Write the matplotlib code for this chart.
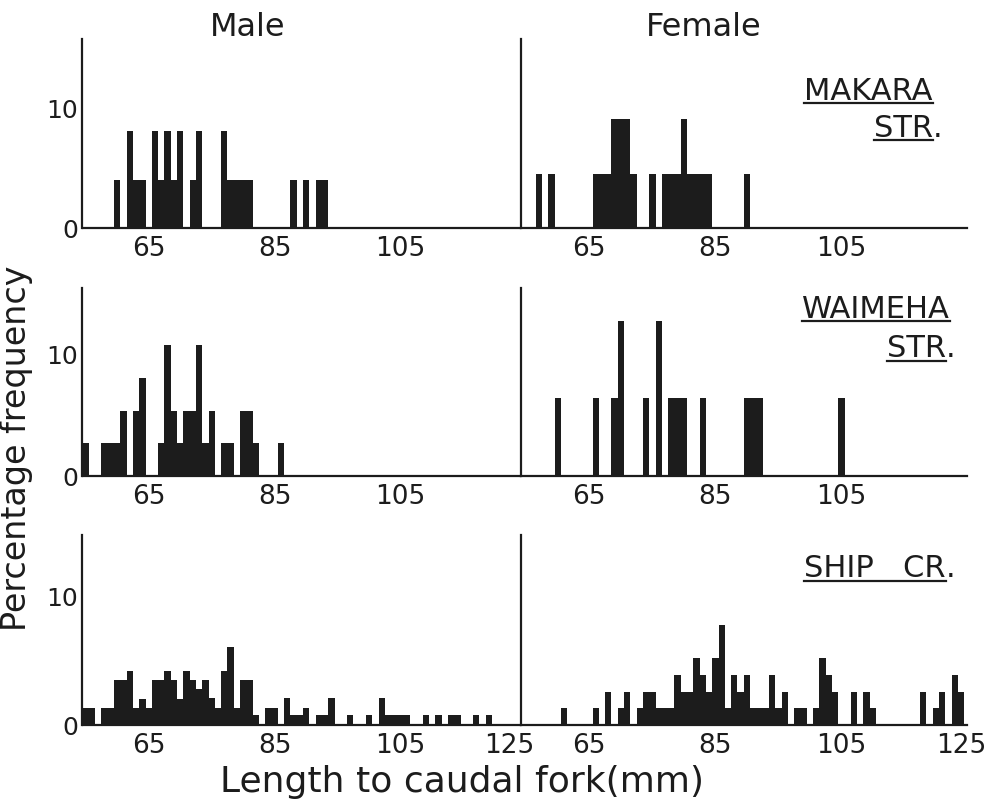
import matplotlib
matplotlib.use("Agg")
import matplotlib.pyplot as plt
from matplotlib.lines import Line2D

plt.rcParams['font.family'] = ['DejaVu Sans']

# percentage frequency in 1 mm length classes (left edge of class, mm)
makara_male_len = [60, 62, 63, 64, 66, 67, 68, 69, 70, 72, 73, 77, 78, 79, 80, 81, 88, 90, 92, 93]
makara_male_pct = [4.0, 8.1, 4.0, 4.0, 8.1, 4.0, 8.1, 4.0, 8.1, 4.0, 8.1, 8.1, 4.0, 4.0, 4.0, 4.0,
                   4.0, 4.0, 4.0, 4.0]

makara_female_len = [57, 59, 66, 67, 68, 69, 70, 71, 72, 75, 77, 78, 79, 80, 81, 82, 83, 84, 90]
makara_female_pct = [4.5, 4.5, 4.5, 4.5, 4.5, 9.1, 9.1, 9.1, 4.5, 4.5, 4.5, 4.5, 4.5, 9.1, 4.5,
                     4.5, 4.5, 4.5, 4.5]

waimeha_male_len = [55, 58, 59, 60, 61, 63, 64, 67, 68, 69, 70, 71, 72, 73, 74, 75, 77, 78, 80,
                    81, 82, 86]
waimeha_male_pct = [2.7, 2.7, 2.7, 2.7, 5.4, 5.4, 8.1, 2.7, 10.8, 5.4, 2.7, 5.4, 5.4, 10.8, 2.7,
                    5.4, 2.7, 2.7, 5.4, 5.4, 2.7, 2.7]

waimeha_female_len = [60, 66, 69, 70, 74, 76, 78, 79, 80, 83, 90, 91, 92, 105]
waimeha_female_pct = [6.4, 6.4, 6.4, 12.8, 6.4, 12.8, 6.4, 6.4, 6.4, 6.4, 6.4, 6.4, 6.4, 6.4]

ship_male_len = [55, 56, 58, 59, 60, 61, 62, 63, 64, 65, 66, 67, 68, 69, 70, 71, 72, 73, 74, 75,
                 76, 77, 78, 79, 80, 81, 82, 84, 85, 87, 88, 89, 90, 92, 93, 94, 97, 100, 102,
                 103, 104, 105, 106, 109, 111, 113, 114, 117, 119]
ship_male_pct = [1.3, 1.3, 1.3, 1.3, 3.5, 3.5, 4.2, 1.3, 2.0, 1.3, 3.5, 3.5, 4.2, 3.5, 2.0, 4.2,
                 3.5, 2.8, 3.5, 2.1, 1.3, 4.2, 6.1, 1.3, 3.5, 3.5, 0.8, 1.3, 1.3, 2.1, 0.8, 0.8,
                 1.3, 0.8, 0.8, 2.1, 0.8, 0.8, 2.1, 0.8, 0.8, 0.8, 0.8, 0.8, 0.8, 0.8, 0.8, 0.8,
                 0.8]

ship_female_len = [61, 66, 68, 70, 71, 73, 74, 75, 76, 77, 78, 79, 80, 81, 82, 83, 84, 85, 86,
                   87, 88, 89, 90, 91, 92, 93, 94, 95, 96, 98, 99, 101, 102, 103, 104, 107, 109,
                   110, 118, 120, 121, 123, 124]
ship_female_pct = [1.3, 1.3, 2.6, 1.3, 2.6, 1.3, 2.6, 2.6, 1.3, 1.3, 1.3, 3.9, 2.6, 2.6, 5.2,
                   3.9, 2.6, 5.2, 7.8, 1.3, 3.9, 2.6, 3.9, 1.3, 1.3, 1.3, 3.9, 1.3, 2.6, 1.3,
                   1.3, 1.3, 5.2, 3.9, 2.6, 2.6, 2.6, 1.3, 2.6, 1.3, 2.6, 3.9, 2.6]

ink = '#1c1c1c'
W, H = 1004, 805
fig = plt.figure(figsize=(W / 100, H / 100), dpi=100, facecolor='white')


def px_axes(x0, y0, x1, y1):
    return fig.add_axes([x0 / W, 1 - y1 / H, (x1 - x0) / W, (y1 - y0) / H])


def panel(ax, lengths, pct, xlim, ymax, ticks, ticklabels, ylabels):
    ax.bar(lengths, pct, width=1.0, align='edge', color=ink, linewidth=0)
    ax.set_xlim(*xlim)
    ax.set_ylim(0, ymax)
    for side in ('top', 'right'):
        ax.spines[side].set_visible(False)
    for side in ('left', 'bottom'):
        ax.spines[side].set_linewidth(1.6)
        ax.spines[side].set_color(ink)
    ax.set_xticks(ticks)
    ax.set_xticklabels(ticklabels)
    ax.tick_params(axis='x', length=0, pad=6, labelsize=19, labelcolor=ink)
    if ylabels:
        ax.set_yticks([0, 10])
        ax.set_yticklabels(['0', '10'])
        ax.tick_params(axis='y', length=0, pad=3, labelsize=18, labelcolor=ink)
    else:
        ax.set_yticks([])
    ax.set_facecolor('none')


male_xlim = (55.0, 124.44)
female_xlim = (54.65, 125.44)
ticks_top = [65.5, 85.5, 105.5]
labels_top = ['65', '85', '105']

rows = [
    (39, 228, 15.75, makara_male_len, makara_male_pct, makara_female_len, makara_female_pct),
    (288, 476, 15.5, waimeha_male_len, waimeha_male_pct, waimeha_female_len, waimeha_female_pct),
    (535, 725, 14.8, ship_male_len, ship_male_pct, ship_female_len, ship_female_pct),
]

for i, (top, bottom, ymax, mlen, mpct, flen, fpct) in enumerate(rows):
    last = i == len(rows) - 1
    ax_m = px_axes(82.5, top, 520, bottom)
    ax_f = px_axes(521, top, 967, bottom)
    if last:
        panel(ax_m, mlen, mpct, male_xlim, ymax, ticks_top + [122.8], labels_top + ['125'], True)
        panel(ax_f, flen, fpct, female_xlim, ymax, ticks_top + [124.5], labels_top + ['125'], False)
    else:
        panel(ax_m, mlen, mpct, male_xlim, ymax, ticks_top, labels_top, True)
        panel(ax_f, flen, fpct, female_xlim, ymax, ticks_top, labels_top, False)

# column headings and axis titles
fig.text(248 / W, 1 - 27 / H, 'Male', ha='center', va='center', fontsize=23, color=ink)
fig.text(704 / W, 1 - 27 / H, 'Female', ha='center', va='center', fontsize=23, color=ink)
fig.text(17 / W, 1 - 448 / H, 'Percentage frequency', rotation=90, ha='center', va='center',
         fontsize=24, color=ink)
fig.text(462 / W, 1 - 782 / H, 'Length to caudal fork(mm)', ha='center', va='center',
         fontsize=26, color=ink)

# locality names, underlined
site_labels = [
    ('MAKARA', 933, 100),
    ('STR', 933, 137),
    ('WAIMEHA', 950, 318),
    ('STR', 946, 357),
    ('SHIP   CR', 946, 577),
]
dotted = {'STR', 'SHIP   CR'}

fig.canvas.draw()
renderer = fig.canvas.get_renderer()
for label, xr, yb in site_labels:
    t = fig.text(xr / W, 1 - yb / H, label, ha='right', va='baseline', fontsize=22, color=ink)
    if label in dotted:
        fig.text(xr / W, 1 - yb / H, '.', ha='left', va='baseline', fontsize=22, color=ink)
    bb = t.get_window_extent(renderer)
    yu = 1 - (yb + 3.5) / H
    fig.add_artist(Line2D([bb.x0 / W, bb.x1 / W], [yu, yu], transform=fig.transFigure,
                          color=ink, lw=1.6))

fig.savefig('out.png', dpi=100, facecolor='white')
